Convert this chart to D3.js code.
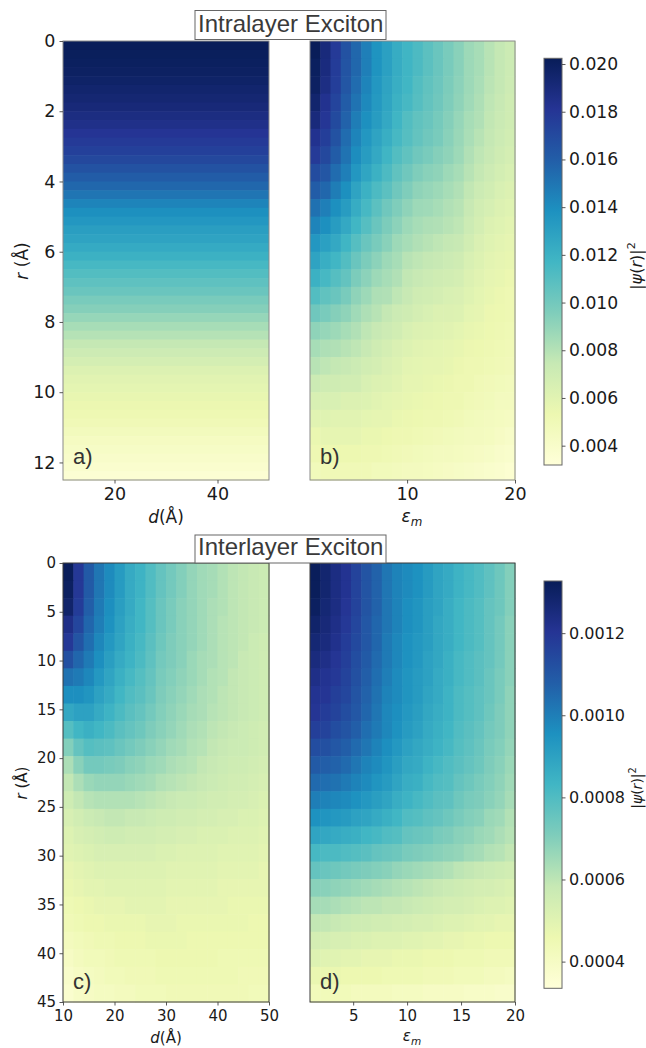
<!DOCTYPE html>
<html><head><meta charset="utf-8">
<script src="https://cdn.jsdelivr.net/npm/d3@7"></script>
<style>body{margin:0;background:#fff} svg{display:block}</style>
</head><body><svg id="fig" width="646" height="1048"></svg>
<script>
// ---------------- DATA ----------------
// Panel a: |psi(r)|^2 (x1e-3) vs r, nearly independent of d
const rA = [0,0.25,0.5,0.75,1,1.25,1.5,1.75,2,2.25,2.5,2.75,3,3.25,3.5,3.75,4,4.25,4.5,4.75,5,5.25,5.5,5.75,6,6.25,6.5,6.75,7,7.25,7.5,7.75,8,8.25,8.5,8.75,9,9.25,9.5,9.75,10,10.25,10.5,10.75,11,11.25,11.5,11.75,12,12.25];
const psiA_e3 = [20.2,20.1,20.0,19.9,19.7,19.5,19.3,19.1,18.8,18.5,18.1,17.8,17.5,17.1,16.6,16.1,15.6,15.0,14.4,13.9,13.5,13.1,12.8,12.4,12.0,11.5,11.1,10.7,10.3,9.8,9.4,8.9,8.4,8.0,7.5,7.1,6.7,6.3,6.0,5.8,5.6,5.4,5.2,5.0,4.7,4.4,4.2,4.0,3.8,3.5];

// Panel b: rows r (0..12 step .5), columns eps_m 1..20, values x1e-3
const rB = [0,0.5,1,1.5,2,2.5,3,3.5,4,4.5,5,5.5,6,6.5,7,7.5,8,8.5,9,9.5,10,10.5,11,11.5,12];
const epsB = [1,2,3,4,5,6,7,8,9,10,11,12,13,14,15,16,17,18,19,20];
const psiB_e3 = [
[20.2,19.0,17.8,16.6,15.6,14.6,13.7,13.0,12.3,11.8,11.3,10.8,10.3,9.8,9.3,8.7,8.4,7.9,7.5,7.2],
[20.0,18.9,17.7,16.5,15.6,14.6,13.7,13.0,12.3,11.8,11.3,10.8,10.3,9.8,9.3,8.7,8.4,7.9,7.5,7.2],
[19.9,18.7,17.6,16.4,15.4,14.4,13.5,12.8,12.2,11.7,11.1,10.6,10.2,9.7,9.2,8.7,8.3,7.8,7.5,7.1],
[19.5,18.3,17.3,16.1,15.1,14.2,13.4,12.7,12.0,11.5,11.0,10.5,10.1,9.6,9.1,8.6,8.2,7.7,7.4,7.0],
[19.0,18.0,17.0,15.8,14.7,13.9,13.2,12.5,11.8,11.1,10.6,10.3,9.9,9.4,8.9,8.4,8.1,7.6,7.3,7.0],
[18.3,17.6,16.6,15.4,14.4,13.5,12.8,12.2,11.5,11.0,10.5,10.1,9.8,9.3,8.8,8.3,7.9,7.5,7.2,6.9],
[17.8,17.1,16.1,15.1,14.0,13.2,12.5,11.8,11.1,10.6,10.1,9.8,9.4,9.1,8.7,8.1,7.7,7.4,7.0,6.7],
[16.9,16.4,15.4,14.6,13.5,12.7,12.0,11.3,10.6,10.1,9.6,9.3,9.1,8.7,8.4,7.9,7.5,7.1,6.8,6.5],
[16.1,15.6,14.7,13.9,12.8,12.0,11.3,10.8,10.1,9.6,9.1,8.9,8.7,8.4,8.1,7.6,7.2,6.9,6.5,6.3],
[15.2,14.6,13.9,13.2,12.3,11.5,10.8,10.1,9.6,9.1,8.7,8.6,8.4,8.1,7.9,7.4,6.9,6.6,6.3,6.1],
[14.4,13.9,13.2,12.5,11.7,11.0,10.3,9.7,9.2,8.7,8.4,8.2,8.1,7.9,7.7,7.2,6.7,6.3,6.1,5.9],
[13.5,13.0,12.5,11.8,11.0,10.3,9.8,9.3,8.7,8.4,8.1,7.9,7.7,7.5,7.4,6.9,6.4,6.1,5.9,5.7],
[12.8,12.2,11.7,11.1,10.3,9.7,9.2,8.7,8.4,7.9,7.7,7.5,7.4,7.2,7.0,6.5,6.2,5.9,5.7,5.6],
[12.0,11.5,11.0,10.5,9.7,9.2,8.7,8.4,8.1,7.6,7.4,7.2,7.0,6.9,6.7,6.3,6.0,5.7,5.6,5.4],
[11.1,10.6,10.3,9.8,9.1,8.7,8.2,8.1,7.7,7.4,7.0,6.9,6.7,6.5,6.4,6.1,5.8,5.6,5.4,5.2],
[10.1,9.8,9.4,9.1,8.6,8.2,7.9,7.5,7.2,7.0,6.7,6.5,6.3,6.3,6.2,5.8,5.7,5.4,5.3,5.2],
[9.1,8.9,8.7,8.4,8.1,7.7,7.4,7.1,6.9,6.5,6.3,6.2,6.1,6.0,5.8,5.6,5.5,5.3,5.2,5.1],
[8.4,8.2,8.1,7.9,7.7,7.4,7.0,6.7,6.4,6.2,6.0,5.9,5.8,5.7,5.6,5.4,5.3,5.2,5.1,5.0],
[7.9,7.7,7.5,7.4,7.2,6.9,6.7,6.4,6.2,5.9,5.8,5.7,5.7,5.6,5.4,5.2,5.2,5.1,5.0,4.9],
[7.2,7.0,7.0,6.9,6.9,6.5,6.3,6.2,6.0,5.7,5.7,5.6,5.5,5.4,5.2,5.2,5.0,4.9,4.8,4.7],
[6.5,6.5,6.5,6.3,6.3,6.2,6.0,5.8,5.7,5.6,5.5,5.4,5.3,5.2,5.2,5.0,4.9,4.8,4.6,4.6],
[6.0,6.1,6.0,6.0,6.0,5.8,5.7,5.7,5.5,5.4,5.3,5.2,5.2,5.1,5.0,4.8,4.7,4.6,4.5,4.4],
[5.5,5.7,5.7,5.7,5.7,5.5,5.5,5.3,5.2,5.2,5.1,5.0,4.9,4.8,4.7,4.6,4.6,4.5,4.3,4.1],
[5.2,5.3,5.3,5.3,5.3,5.2,5.2,5.1,5.0,4.9,4.8,4.7,4.6,4.6,4.5,4.4,4.3,4.2,4.0,3.9],
[4.8,5.0,5.0,5.0,5.0,5.0,4.8,4.8,4.7,4.6,4.6,4.5,4.4,4.3,4.2,4.1,4.0,3.9,3.8,3.6]];

// Panels c,d: rows r (0..43.2 step 1.8), values x1e-4
const rCD = [0,1.8,3.6,5.4,7.2,9,10.8,12.6,14.4,16.2,18,19.8,21.6,23.4,25.2,27,28.8,30.6,32.4,34.2,36,37.8,39.6,41.4,43.2];
const dC = [10,12,14,16,18,20,22,24,26,28,30,32,34,36,38,40,42,44,46,48];
const psiC_e4 = [
[13.2,11.9,10.9,10.2,9.7,9.2,8.7,8.4,8.0,7.6,7.3,7.0,6.7,6.5,6.4,6.2,6.0,5.9,5.8,5.7],
[13.1,11.9,10.9,10.2,9.7,9.2,8.7,8.4,8.0,7.6,7.3,7.0,6.7,6.5,6.4,6.2,6.0,5.9,5.8,5.7],
[12.9,11.8,10.8,10.1,9.6,9.1,8.7,8.3,7.9,7.5,7.2,6.9,6.7,6.5,6.3,6.2,6.0,5.9,5.8,5.7],
[12.3,11.5,10.6,10.0,9.5,9.0,8.6,8.3,7.9,7.5,7.2,6.9,6.7,6.5,6.3,6.1,6.0,5.9,5.8,5.7],
[11.9,11.1,10.4,9.8,9.3,8.9,8.5,8.2,7.8,7.4,7.1,6.9,6.7,6.5,6.3,6.1,6.0,5.9,5.7,5.6],
[11.2,10.6,10.1,9.6,9.1,8.7,8.4,8.1,7.7,7.3,7.1,6.9,6.6,6.4,6.3,6.1,6.0,5.8,5.7,5.6],
[10.3,10.1,9.8,9.3,8.9,8.5,8.2,7.9,7.6,7.2,7.0,6.8,6.6,6.4,6.2,6.1,5.9,5.8,5.7,5.6],
[9.6,9.6,9.4,9.0,8.7,8.3,8.0,7.8,7.5,7.1,6.9,6.7,6.5,6.3,6.2,6.0,5.9,5.8,5.7,5.6],
[8.8,9.0,9.0,8.7,8.4,8.1,7.8,7.6,7.3,7.0,6.8,6.6,6.4,6.3,6.1,6.0,5.9,5.8,5.7,5.6],
[7.9,8.3,8.5,8.3,8.1,7.8,7.6,7.4,7.1,6.9,6.7,6.5,6.3,6.2,6.0,5.9,5.8,5.7,5.6,5.5],
[7.0,7.6,7.9,7.8,7.7,7.5,7.3,7.1,6.9,6.7,6.5,6.4,6.2,6.1,5.9,5.8,5.7,5.7,5.6,5.5],
[6.3,6.9,7.3,7.3,7.2,7.1,6.9,6.8,6.6,6.5,6.3,6.2,6.1,5.9,5.8,5.7,5.6,5.6,5.5,5.4],
[5.9,6.3,6.6,6.7,6.7,6.7,6.6,6.5,6.4,6.2,6.1,6.0,5.9,5.8,5.7,5.6,5.5,5.5,5.4,5.3],
[5.6,5.9,6.1,6.2,6.2,6.2,6.2,6.1,6.0,5.9,5.8,5.7,5.7,5.6,5.5,5.5,5.4,5.4,5.3,5.2],
[5.3,5.5,5.7,5.8,5.9,5.9,5.8,5.8,5.7,5.6,5.6,5.5,5.5,5.4,5.4,5.3,5.3,5.2,5.2,5.1],
[5.1,5.3,5.4,5.5,5.6,5.6,5.5,5.5,5.5,5.4,5.4,5.3,5.3,5.2,5.2,5.2,5.1,5.1,5.1,5.0],
[5.0,5.1,5.2,5.3,5.3,5.3,5.3,5.3,5.3,5.2,5.2,5.1,5.1,5.1,5.1,5.0,5.0,5.0,5.0,4.9],
[4.8,4.9,5.0,5.1,5.1,5.1,5.1,5.1,5.1,5.1,5.0,5.0,5.0,5.0,5.0,4.9,4.9,4.9,4.9,4.8],
[4.7,4.8,4.9,4.9,5.0,5.0,5.0,5.0,5.0,5.0,4.9,4.9,4.9,4.9,4.9,4.8,4.8,4.8,4.8,4.8],
[4.5,4.6,4.7,4.8,4.8,4.8,4.9,4.9,4.9,4.9,4.8,4.8,4.8,4.8,4.8,4.8,4.7,4.7,4.7,4.7],
[4.4,4.5,4.6,4.6,4.7,4.7,4.7,4.7,4.8,4.8,4.8,4.7,4.7,4.7,4.7,4.7,4.7,4.7,4.6,4.6],
[4.2,4.3,4.4,4.5,4.5,4.6,4.6,4.6,4.7,4.7,4.7,4.7,4.6,4.6,4.6,4.6,4.6,4.6,4.6,4.6],
[4.0,4.2,4.3,4.3,4.4,4.5,4.5,4.5,4.5,4.6,4.6,4.6,4.6,4.6,4.6,4.5,4.5,4.5,4.5,4.5],
[3.8,4.0,4.1,4.2,4.3,4.3,4.4,4.4,4.4,4.5,4.5,4.5,4.5,4.5,4.5,4.5,4.5,4.4,4.4,4.4],
[3.7,3.9,4.0,4.1,4.1,4.2,4.2,4.3,4.3,4.3,4.4,4.4,4.4,4.4,4.4,4.4,4.4,4.4,4.3,4.3]];

const epsD = [1,2,3,4,5,6,7,8,9,10,11,12,13,14,15,16,17,18,19,20];
const psiD_e4 = [
[13.2,12.8,12.4,12.1,11.6,11.1,10.7,10.2,9.9,9.7,9.5,9.2,8.9,8.7,8.4,8.2,8.0,7.7,7.4,7.0],
[13.2,12.8,12.4,12.1,11.6,11.1,10.7,10.2,9.9,9.7,9.5,9.2,8.9,8.7,8.4,8.2,8.0,7.7,7.4,7.0],
[13.1,12.7,12.4,12.0,11.6,11.1,10.7,10.2,9.9,9.6,9.4,9.1,8.9,8.6,8.3,8.1,7.9,7.6,7.4,7.0],
[12.9,12.6,12.3,11.9,11.5,11.0,10.6,10.2,9.9,9.6,9.4,9.1,8.8,8.6,8.3,8.1,7.9,7.6,7.3,6.9],
[12.7,12.5,12.2,11.8,11.4,11.0,10.6,10.1,9.8,9.5,9.3,9.1,8.8,8.6,8.3,8.1,7.9,7.6,7.3,6.9],
[12.5,12.3,12.0,11.7,11.3,10.9,10.5,10.1,9.8,9.5,9.3,9.0,8.8,8.5,8.2,8.0,7.8,7.6,7.3,6.9],
[12.3,12.1,11.9,11.6,11.2,10.8,10.4,10.0,9.7,9.4,9.2,9.0,8.7,8.5,8.2,8.0,7.8,7.5,7.2,6.9],
[12.1,12.0,11.7,11.5,11.1,10.7,10.3,9.9,9.7,9.4,9.2,8.9,8.7,8.4,8.1,7.9,7.7,7.5,7.2,6.8],
[12.0,11.8,11.6,11.3,11.0,10.6,10.2,9.8,9.6,9.3,9.1,8.8,8.6,8.4,8.1,7.9,7.7,7.4,7.1,6.8],
[11.7,11.6,11.3,11.1,10.8,10.4,10.1,9.8,9.5,9.2,9.0,8.7,8.5,8.3,8.0,7.8,7.6,7.3,7.1,6.8],
[11.3,11.2,11.0,10.8,10.5,10.2,9.9,9.6,9.3,9.0,8.8,8.6,8.4,8.2,7.9,7.7,7.5,7.2,7.0,6.7],
[10.9,10.8,10.7,10.5,10.2,9.9,9.7,9.4,9.1,8.8,8.7,8.4,8.2,8.0,7.8,7.6,7.4,7.1,6.9,6.6],
[10.5,10.4,10.3,10.1,9.9,9.7,9.4,9.2,8.9,8.6,8.5,8.2,8.0,7.9,7.6,7.4,7.2,7.0,6.8,6.5],
[10.0,9.9,9.8,9.7,9.5,9.3,9.1,8.9,8.6,8.4,8.2,8.0,7.8,7.7,7.4,7.2,7.1,6.9,6.7,6.4],
[9.5,9.4,9.3,9.2,9.0,8.9,8.7,8.5,8.3,8.0,7.9,7.7,7.6,7.4,7.2,7.0,6.9,6.6,6.5,6.2],
[8.9,8.8,8.7,8.6,8.5,8.3,8.2,8.0,7.9,7.6,7.5,7.4,7.2,7.1,6.9,6.8,6.6,6.5,6.3,6.1],
[8.2,8.1,8.1,8.0,7.9,7.8,7.6,7.5,7.4,7.2,7.1,7.0,6.9,6.8,6.7,6.5,6.4,6.2,6.1,5.9],
[7.6,7.5,7.4,7.3,7.2,7.1,7.0,6.9,6.7,6.6,6.5,6.4,6.3,6.2,6.0,5.9,5.8,5.7,5.6,5.5],
[6.9,6.9,6.8,6.7,6.6,6.5,6.4,6.3,6.2,6.1,6.0,5.9,5.8,5.7,5.6,5.5,5.4,5.4,5.3,5.2],
[6.4,6.4,6.3,6.2,6.1,6.0,6.0,5.9,5.9,5.8,5.7,5.6,5.5,5.4,5.4,5.3,5.2,5.1,5.1,5.0],
[5.9,5.9,5.8,5.7,5.6,5.6,5.5,5.5,5.4,5.4,5.3,5.3,5.2,5.1,5.1,5.0,4.9,4.9,4.8,4.8],
[5.4,5.4,5.3,5.3,5.2,5.2,5.1,5.1,5.1,5.0,5.0,4.9,4.9,4.8,4.8,4.7,4.7,4.6,4.6,4.6],
[5.1,5.0,5.0,4.9,4.9,4.8,4.8,4.8,4.7,4.7,4.7,4.6,4.6,4.6,4.5,4.5,4.5,4.4,4.4,4.4],
[4.7,4.7,4.7,4.6,4.6,4.6,4.6,4.5,4.5,4.5,4.5,4.4,4.4,4.4,4.3,4.3,4.3,4.2,4.2,4.1],
[4.3,4.3,4.3,4.3,4.2,4.2,4.2,4.2,4.1,4.1,4.1,4.0,4.0,4.0,4.0,3.9,3.9,3.9,3.8,3.8]];

// Axis ticks / colorbar ranges
const ticksAx = [20,40];
const ticksABy = [0,2,4,6,8,10,12];
const ticksBx = [10,20];
const ticksCx = [10,20,30,40,50];
const ticksCDy = [0,5,10,15,20,25,30,35,40,45];
const ticksDx = [5,10,15,20];
const cbTopTicks = [0.004,0.006,0.008,0.010,0.012,0.014,0.016,0.018,0.020];
const cbBotTicks = [0.0004,0.0006,0.0008,0.0010,0.0012];
const cbTopRange = [0.00319,0.02024];
const cbBotRange = [0.000335,0.001327];
const titles = ["Intralayer Exciton","Interlayer Exciton"];
const panelLabels = ["a)","b)","c)","d)"];
const YlGnBu = ["#ffffd9","#edf8b1","#c7e9b4","#7fcdbb","#41b6c4","#1d91c0","#225ea8","#253494","#081d58"];

// ---------------- DRAW ----------------
const svg = d3.select("#fig");
const FONT = "DejaVu Sans, sans-serif";
const defs = svg.append("defs");

function cmap(range){
  const [lo,hi] = range;
  return d3.scaleLinear().domain(YlGnBu.map((c,i)=>lo+(hi-lo)*i/8)).range(YlGnBu)
    .interpolate(d3.interpolateRgb).clamp(true);
}
const colTop = cmap(cbTopRange), colBot = cmap(cbBotRange);

const P = {
  a:{x0:63,x1:269,y0:41,y1:480}, b:{x0:310,x1:515,y0:41,y1:480},
  c:{x0:63,x1:269,y0:563,y1:1002}, d:{x0:310,x1:515,y0:563,y1:1002}
};

function heat(p, xCats, yCats, M, unit, color){
  const xb = d3.scaleBand().domain(xCats).range([p.x0,p.x1]);
  const yb = d3.scaleBand().domain(yCats).range([p.y0,p.y1]);
  const cells = [];
  yCats.forEach((r,i)=>xCats.forEach((x,j)=>cells.push({x,r,v:M[i][j]*unit})));
  svg.append("g").selectAll("rect").data(cells).join("rect")
    .attr("x",d=>xb(d.x)).attr("y",d=>yb(d.r))
    .attr("width",Math.min(xb.bandwidth()+0.6, p.x1-p.x0))
    .attr("height",yb.bandwidth()+0.6)
    .attr("fill",d=>color(d.v));
}

// panel a (rows only)
{
  const p = P.a;
  const yb = d3.scaleBand().domain(rA).range([p.y0,p.y1]);
  svg.append("g").selectAll("rect").data(rA.map((r,i)=>({r,v:psiA_e3[i]*1e-3}))).join("rect")
    .attr("x",p.x0).attr("width",p.x1-p.x0)
    .attr("y",d=>yb(d.r)).attr("height",yb.bandwidth()+0.6)
    .attr("fill",d=>colTop(d.v));
}
heat(P.b, epsB, rB, psiB_e3, 1e-3, colTop);
heat(P.c, dC, rCD, psiC_e4, 1e-4, colBot);
heat(P.d, epsD, rCD, psiD_e4, 1e-4, colBot);

// frames
[["a","#8a8a8a"],["b","#8a8a8a"],["c","#3a3a3a"],["d","#3a3a3a"]].forEach(([k,c])=>{
  const p=P[k];
  svg.append("rect").attr("x",p.x0).attr("y",p.y0).attr("width",p.x1-p.x0).attr("height",p.y1-p.y0)
    .attr("fill","none").attr("stroke",c).attr("stroke-width",1);
});

function styleAxis(g, fs){
  g.attr("font-family",FONT).attr("font-size",fs);
  g.select(".domain").remove();
  g.selectAll(".tick line").attr("stroke","#444").attr("stroke-width",0.9);
  g.selectAll(".tick text").attr("fill","#1a1a1a");
}
// scales
const xA = d3.scaleLinear().domain([10,50]).range([P.a.x0,P.a.x1]);
const yAB = d3.scaleLinear().domain([0,12.5]).range([P.a.y0,P.a.y1]);
const xB = d3.scaleLinear().domain([1,20]).range([P.b.x0,P.b.x1]);
const xC = d3.scaleLinear().domain([10,50]).range([P.c.x0,P.c.x1]);
const yCD = d3.scaleLinear().domain([0,45]).range([P.c.y0,P.c.y1]);
const xD = d3.scaleLinear().domain([1,20]).range([P.d.x0,P.d.x1]);

styleAxis(svg.append("g").attr("transform",`translate(0,${P.a.y1})`)
  .call(d3.axisBottom(xA).tickValues(ticksAx).tickSize(3.5).tickPadding(4.5).tickFormat(d3.format("d"))),17.5);
styleAxis(svg.append("g").attr("transform",`translate(${P.a.x0},0)`)
  .call(d3.axisLeft(yAB).tickValues(ticksABy).tickSize(3.5).tickPadding(4).tickFormat(d3.format("d"))),17.5);
styleAxis(svg.append("g").attr("transform",`translate(0,${P.b.y1})`)
  .call(d3.axisBottom(xB).tickValues(ticksBx).tickSize(3.5).tickPadding(4.5).tickFormat(d3.format("d"))),17.5);
styleAxis(svg.append("g").attr("transform",`translate(0,${P.c.y1})`)
  .call(d3.axisBottom(xC).tickValues(ticksCx).tickSize(3.5).tickPadding(5).tickFormat(d3.format("d"))),15);
styleAxis(svg.append("g").attr("transform",`translate(${P.c.x0},0)`)
  .call(d3.axisLeft(yCD).tickValues(ticksCDy).tickSize(3.5).tickPadding(3.5).tickFormat(d3.format("d"))),15);
styleAxis(svg.append("g").attr("transform",`translate(0,${P.d.y1})`)
  .call(d3.axisBottom(xD).tickValues(ticksDx).tickSize(3.5).tickPadding(5).tickFormat(d3.format("d"))),15);

// colorbars
function colorbar(id, x0, x1, y0, y1, range, ticks, fmt, fs){
  const g = defs.append("linearGradient").attr("id",id).attr("x1",0).attr("y1",1).attr("x2",0).attr("y2",0);
  YlGnBu.forEach((c,i)=>g.append("stop").attr("offset",i/8).attr("stop-color",c));
  svg.append("rect").attr("x",x0).attr("y",y0).attr("width",x1-x0).attr("height",y1-y0)
    .attr("fill",`url(#${id})`).attr("stroke","#666").attr("stroke-width",1);
  const s = d3.scaleLinear().domain(range).range([y1,y0]);
  styleAxis(svg.append("g").attr("transform",`translate(${x1},0)`)
    .call(d3.axisRight(s).tickValues(ticks).tickSize(3.5).tickPadding(3.5).tickFormat(d3.format(fmt))),fs);
}
colorbar("cbTop",544,562,58.3,465,cbTopRange,cbTopTicks,".3f",17.2);
colorbar("cbBot",544,562,581,988.3,cbBotRange,cbBotTicks,".4f",16);

// colorbar labels |psi(r)|^2
function psiLabel(x,y,fs){
  const t = svg.append("text").attr("transform",`translate(${x},${y}) rotate(-90)`)
    .attr("text-anchor","middle").attr("font-family",FONT).attr("font-size",fs).attr("fill","#1a1a1a");
  t.append("tspan").text("|");
  t.append("tspan").attr("font-style","italic").text("ψ");
  t.append("tspan").text("(");
  t.append("tspan").attr("font-style","italic").text("r");
  t.append("tspan").text(")|");
  t.append("tspan").attr("font-size",fs*0.7).attr("dy",-fs*0.45).text("2");
}
psiLabel(642,266,16);
psiLabel(642,788,14);

// axis labels
function rLabel(x,y,fs){
  const t = svg.append("text").attr("transform",`translate(${x},${y}) rotate(-90)`)
    .attr("text-anchor","middle").attr("font-family",FONT).attr("font-size",fs).attr("fill","#1a1a1a");
  t.append("tspan").attr("font-style","italic").text("r");
  t.append("tspan").text(" (Å)");
}
function dLabel(x,y,fs){
  const t = svg.append("text").attr("x",x).attr("y",y)
    .attr("text-anchor","middle").attr("font-family",FONT).attr("font-size",fs).attr("fill","#1a1a1a");
  t.append("tspan").attr("font-style","italic").text("d");
  t.append("tspan").text("(Å)");
}
function epsLabel(x,y,fs){
  const t = svg.append("text").attr("x",x).attr("y",y)
    .attr("text-anchor","middle").attr("font-family",FONT).attr("font-size",fs).attr("fill","#1a1a1a");
  t.append("tspan").attr("font-style","italic").text("ε");
  t.append("tspan").attr("font-style","italic").attr("font-size",fs*0.7).attr("dy",fs*0.25).text("m");
}
rLabel(28,261,17);
rLabel(27,783,15);
dLabel(166,523,17);
dLabel(166,1043,15);
epsLabel(412,522,17);
epsLabel(412,1041,15);

// titles with boxes
function title(txt, y0, y1, base){
  svg.append("rect").attr("x",195).attr("y",y0).attr("width",191).attr("height",y1-y0)
    .attr("fill","#fff").attr("stroke","#666").attr("stroke-width",1);
  svg.append("text").attr("x",290.7).attr("y",base).attr("text-anchor","middle")
    .attr("font-family","Liberation Sans, Arial, sans-serif").attr("font-size",24).attr("fill","#3a3a3a").text(txt);
}
title(titles[0],10.5,39.5,32.3);
title(titles[1],535,563,555);

// panel letters
const letterPos = [[73,464],[320,464],[73,989],[320,989]];
panelLabels.forEach((s,i)=>{
  svg.append("text").attr("x",letterPos[i][0]).attr("y",letterPos[i][1])
    .attr("font-family","Liberation Sans, Arial, sans-serif").attr("font-size",22).attr("fill","#333").text(s);
});
</script></body></html>
